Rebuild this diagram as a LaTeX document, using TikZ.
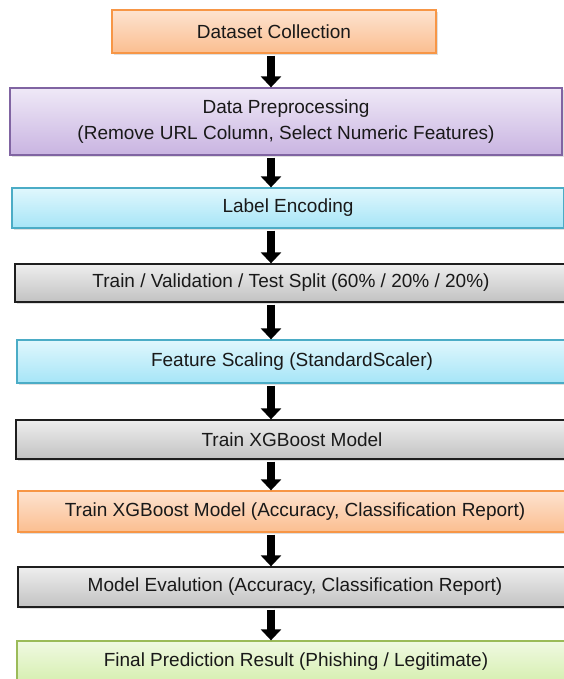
\documentclass[tikz,border=0pt]{standalone}
\usepackage{fontspec}
\setmainfont{Liberation Sans}
\usepackage{tikz}
\usetikzlibrary{arrows.meta,shadows}
\definecolor{orangeline}{HTML}{F79646}
\definecolor{orangetop}{HTML}{FDE3D0}
\definecolor{orangebot}{HTML}{FBBE90}
\definecolor{purpleline}{HTML}{8064A2}
\definecolor{purpletop}{HTML}{EFE9F7}
\definecolor{purplebot}{HTML}{C9B4E1}
\definecolor{cyanline}{HTML}{4BACC6}
\definecolor{cyantop}{HTML}{E0F7FD}
\definecolor{cyanbot}{HTML}{A6E5F7}
\definecolor{grayline}{HTML}{1E1E1E}
\definecolor{graytop}{HTML}{EEEEEE}
\definecolor{graybot}{HTML}{C2C2C2}
\definecolor{greenline}{HTML}{9BBB59}
\definecolor{greentop}{HTML}{F0F9E2}
\definecolor{greenbot}{HTML}{D6EFB0}

\begin{document}
\begin{tikzpicture}[x=1pt, y=-1pt,
	stage/.style={draw, line width=1.3pt, inner sep=0pt, align=center, text=black!90,
		font=\fontsize{19}{26}\selectfont,
		drop shadow={shadow xshift=1.5pt, shadow yshift=-2pt, opacity=.25}},
	orangestage/.style={stage, draw=orangeline, top color=orangetop, bottom color=orangebot},
	purplestage/.style={stage, draw=purpleline, top color=purpletop, bottom color=purplebot},
	cyanstage/.style={stage, draw=cyanline, top color=cyantop, bottom color=cyanbot},
	graystage/.style={stage, draw=grayline, top color=graytop, bottom color=graybot},
	greenstage/.style={stage, draw=greenline, top color=greentop, bottom color=greenbot},
	flow/.style={line width=8pt, -{Triangle[width=20pt, length=11pt]}}]
	\clip (0,0) rectangle (564,679);
	\fill[white] (0,0) rectangle (564,679);
	\coordinate (axis) at (271,0);
	\node[orangestage, minimum width=324pt, minimum height=43pt] (collect) at (274,31.5) {Dataset Collection};
	\node[purplestage, minimum width=552pt, minimum height=67pt] (prep) at (286,121.5) {Data Preprocessing\\(Remove URL Column, Select Numeric Features)};
	\node[cyanstage, minimum width=552pt, minimum height=40pt] (encode) at (288,208) {Label Encoding};
	\node[graystage, minimum width=552pt, minimum height=38pt] (split) at (291,283) {Train / Validation / Test Split (60\% / 20\% / 20\%)};
	\node[cyanstage, minimum width=550pt, minimum height=43pt] (scale) at (292,361.5) {Feature Scaling (StandardScaler)};
	\node[graystage, minimum width=552pt, minimum height=39pt] (train) at (292,439.5) {Train XGBoost Model};
	\node[orangestage, minimum width=554pt, minimum height=41pt] (report) at (295,511.5) {Train XGBoost Model (Accuracy, Classification Report)};
	\node[graystage, minimum width=554pt, minimum height=40pt] (evaluate) at (295,587) {Model Evalution (Accuracy, Classification Report)};
	\node[greenstage, minimum width=558pt, minimum height=41pt] (result) at (296,661.5) {Final Prediction Result (Phishing / Legitimate)};
	\draw[flow] ([yshift=-2pt]collect.south -| axis) -- (prep.north -| axis);
	\draw[flow] ([yshift=-2pt]prep.south -| axis) -- (encode.north -| axis);
	\draw[flow] ([yshift=-2pt]encode.south -| axis) -- (split.north -| axis);
	\draw[flow] ([yshift=-2pt]split.south -| axis) -- (scale.north -| axis);
	\draw[flow] ([yshift=-2pt]scale.south -| axis) -- (train.north -| axis);
	\draw[flow] ([yshift=-2pt]train.south -| axis) -- (report.north -| axis);
	\draw[flow] ([yshift=-2pt]report.south -| axis) -- (evaluate.north -| axis);
	\draw[flow] ([yshift=-2pt]evaluate.south -| axis) -- (result.north -| axis);
\end{tikzpicture}
\end{document}
